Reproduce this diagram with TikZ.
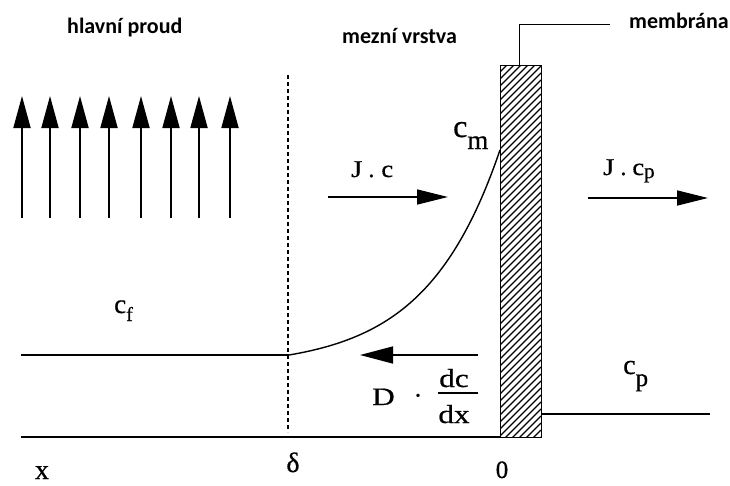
\documentclass[tikz,border=0pt]{standalone}
\usepackage{fontspec}
\setmainfont{Liberation Serif}[FakeBold=0.6]
\newfontfamily\labfont{Carlito}
\usetikzlibrary{arrows.meta}
\newcommand{\fs}[1]{\fontsize{#1}{#1}\selectfont}
\begin{document}
\begin{tikzpicture}[x=1pt,y=-1pt,
  ln/.style={line width=1.4pt},
  flow/.style={line width=1.8pt,-{Triangle[length=32pt,width=17pt]}},
  harrow/.style={line width=1.5pt,-{Triangle[length=31pt,width=15pt]}},
  darrow/.style={line width=1.5pt,-{Triangle[length=33pt,width=17pt]}},
  lab/.style={inner sep=0pt,anchor=base west,font=\labfont\bfseries\fs{22}},
  txt/.style={inner sep=0pt,anchor=base west},
  ctxt/.style={inner sep=0pt,anchor=base}]
\useasboundingbox (0,0) rectangle (730,485);
\fill[white] (0,0) rectangle (730,485);

% main-stream arrows
\foreach \i/\x in {1/22,2/50,3/80,4/109,5/141,6/171,7/199,8/230}{
  \coordinate (s\i) at (\x,218);
  \coordinate (t\i) at (\x,96);
  \draw[flow] (s\i) -- (t\i);
}

% boundary layer dashed line
\coordinate (d1) at (288,75);
\coordinate (d2) at (288,432);
\draw[line width=1.2pt,dash pattern=on 4pt off 3pt] (d1) -- (d2);

% base line and concentration profiles
\coordinate (b1) at (21,437);
\coordinate (b2) at (500,437);
\draw[ln] (b1) -- (b2);
\coordinate (f1) at (21,355);
\coordinate (f2) at (289,355);
\draw[ln] (f1) -- (f2);
\draw[ln] plot[domain=289:500,samples=80,smooth] (\x,{355-12.6*(exp(0.0135*(\x-289))-1)});
\coordinate (p1) at (541,414);
\coordinate (p2) at (710,414);
\draw[ln] (p1) -- (p2);

% membrane
\begin{scope}
  \clip (500,65) rectangle (541,437);
  \foreach \k in {0,...,60}{
    \draw[line width=1.1pt] (500,65+7*\k) -- ++(41,-41);
  }
\end{scope}
\node[draw,line width=1.4pt,minimum width=41pt,minimum height=372pt,inner sep=0pt,anchor=north west] (mem) at (500,65) {};
\coordinate (m1) at (519,24);
\coordinate (m2) at (610,24);
\draw[line width=1pt] (mem.north -| m1) -- (m1) -- (m2);

% flux arrows
\coordinate (ja) at (328,197);
\coordinate (jb) at (448,197);
\draw[harrow] (ja) -- (jb);
\coordinate (ka) at (588,198);
\coordinate (kb) at (708,198);
\draw[harrow] (ka) -- (kb);
\coordinate (da) at (478,355);
\coordinate (db) at (360,355);
\draw[darrow] (da) -- (db);
\coordinate (fr1) at (438,393);
\coordinate (fr2) at (478,393);
\draw[line width=1.1pt] (fr1) -- (fr2);

% bold labels
\node[lab] (hp) at (67,33) {hlavní proud};
\node[lab] (mv) at (342,43) {mezní vrstva};
\node[lab] (mb) at (629,28) {membrána};

% serif labels
\node[txt] (cf) at (114,313) {\fs{27}c\raisebox{-8pt}{\fs{20}f}};
\node[txt] (cm) at (453,137) {\fs{32}c\raisebox{-12pt}{\fs{27}m}};
\node[txt] (cp) at (623,374) {\fs{28}c\raisebox{-12pt}{\fs{25}p}};
\node[txt] (jc) at (351,177) {\fs{24}\scalebox{1.2}[1]{J}\hspace{6pt}.\hspace{7pt}\scalebox{1.1}[1]{c}};
\node[txt] (jcp) at (603,175) {\fs{24}\scalebox{1.2}[1]{J}\hspace{6pt}.\hspace{6pt}\scalebox{1.1}[1]{c}\raisebox{-3pt}{\fs{21}p}};
\node[txt] (dd) at (372,405) {\fs{25}\scalebox{1.25}[1]{D}};
\node[ctxt] (dot) at (418,404) {\fs{26}·};
\node[ctxt] (dc) at (454,387) {\fs{26}\scalebox{1.2}[1]{dc}};
\node[ctxt] (dx) at (454,423) {\fs{26}\scalebox{1.2}[1]{dx}};
\node[ctxt] (del) at (293,472) {\fs{28}δ};
\node[ctxt] (xl) at (42,479) {\fs{28}x};
\node[ctxt] (zero) at (502,478) {\fs{25}0};
\end{tikzpicture}
\end{document}
